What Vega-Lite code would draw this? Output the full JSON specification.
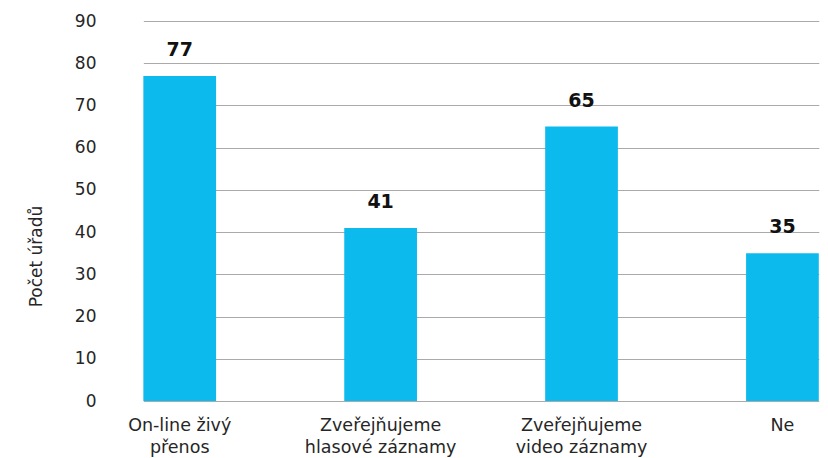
{
  "$schema": "https://vega.github.io/schema/vega-lite/v6.json",
  "width": 714,
  "height": 380,
  "autosize": {"type": "none"},
  "padding": {"left": 114, "top": 21, "right": 0, "bottom": 57},
  "background": "white",
  "config": {
    "view": {"stroke": null},
    "font": "DejaVu Sans",
    "axis": {"labelFont": "DejaVu Sans", "titleFont": "DejaVu Sans"}
  },
  "data": {
    "values": [
      {"kategorie": "On-line živý\npřenos", "pocet": 77},
      {"kategorie": "Zveřejňujeme\nhlasové záznamy", "pocet": 41},
      {"kategorie": "Zveřejňujeme\nvideo záznamy", "pocet": 65},
      {"kategorie": "Ne", "pocet": 35}
    ]
  },
  "encoding": {
    "x": {
      "field": "kategorie",
      "type": "nominal",
      "sort": null,
      "scale": {"range": [29.35, 704.8], "paddingInner": 0.638, "paddingOuter": 0},
      "axis": {
        "title": null,
        "labelAngle": 0,
        "domain": false,
        "ticks": false,
        "labelPadding": 15,
        "labelFontSize": 17.5,
        "labelFontWeight": "normal",
        "labelColor": "#262626",
        "labelLineHeight": 22,
        "labelBaseline": "top",
        "labelExpr": "split(datum.value, '\\n')"
      }
    },
    "y": {
      "field": "pocet",
      "type": "quantitative",
      "scale": {"domain": [0, 90]},
      "axis": {
        "title": "Počet úřadů",
        "values": [0, 10, 20, 30, 40, 50, 60, 70, 80, 90],
        "domain": false,
        "ticks": false,
        "labelPadding": 18,
        "labelFontSize": 17,
        "labelFontWeight": "normal",
        "labelColor": "#262626",
        "gridColor": "#aaaaaa",
        "gridWidth": 1.2,
        "titleFontSize": 17,
        "titleFontWeight": "normal",
        "titleColor": "#262626",
        "titleX": -78,
        "titleY": 235,
        "titleAlign": "center",
        "titleBaseline": "middle"
      }
    }
  },
  "layer": [
    {"mark": {"type": "bar", "color": "#0DBAEE"}},
    {
      "mark": {"type": "text", "dy": -20, "baseline": "alphabetic", "fontSize": 19, "fontWeight": "bold", "color": "#111111"},
      "encoding": {"text": {"field": "pocet", "type": "quantitative"}}
    }
  ]
}
